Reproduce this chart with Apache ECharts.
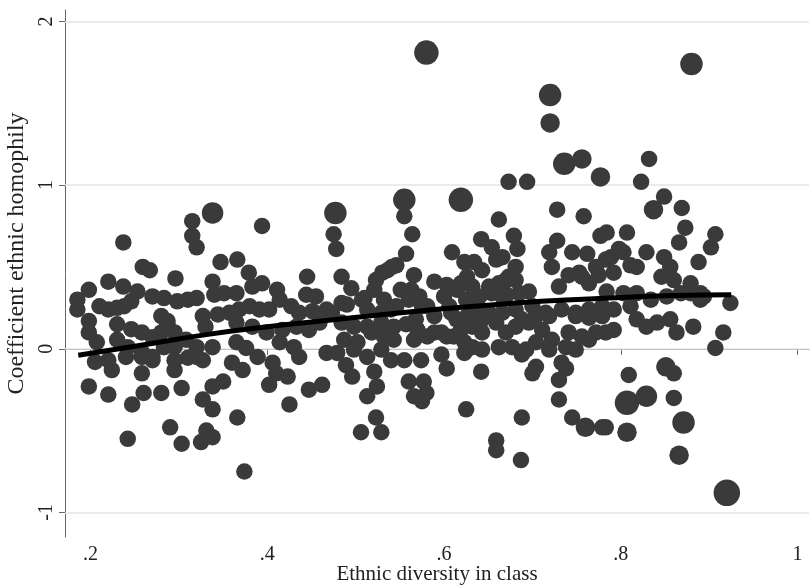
<!DOCTYPE html>
<html>
<head>
<meta charset="utf-8">
<script src="https://cdn.jsdelivr.net/npm/echarts@6/dist/echarts.min.js"></script>
<style>
  html, body { margin: 0; padding: 0; background: #fff; }
  #chart { width: 810px; height: 586px; }
</style>
</head>
<body>
<div id="chart"></div>
<script>
// classes with the usual weight
var classX = [
  0.237, 0.315, 0.315, 0.32, 0.259, 0.267, 0.296, 0.22, 0.237, 0.198,
  0.185, 0.185, 0.21, 0.22, 0.23, 0.238, 0.246, 0.253, 0.27, 0.283,
  0.298, 0.31, 0.32, 0.198, 0.198, 0.207, 0.23, 0.246, 0.258, 0.27,
  0.28, 0.287, 0.295, 0.28, 0.287, 0.23, 0.242, 0.258, 0.27, 0.283,
  0.295, 0.308, 0.32, 0.205, 0.22, 0.24, 0.258, 0.27, 0.295, 0.31,
  0.32, 0.224, 0.258, 0.295, 0.198, 0.22, 0.247, 0.26, 0.28, 0.303,
  0.29, 0.242, 0.303, 0.325,
  // .32 - .48
  0.394, 0.475, 0.478, 0.347, 0.366, 0.379, 0.338, 0.34, 0.351, 0.365,
  0.383, 0.394, 0.411, 0.445, 0.444, 0.455, 0.327, 0.344, 0.357, 0.368,
  0.38, 0.391, 0.402, 0.414, 0.427, 0.436, 0.451, 0.467, 0.473, 0.33,
  0.365, 0.383, 0.399, 0.417, 0.433, 0.447, 0.459, 0.338, 0.365, 0.376,
  0.389, 0.414, 0.43, 0.436, 0.467, 0.327, 0.36, 0.372, 0.406, 0.41,
  0.402, 0.423, 0.338, 0.35, 0.447, 0.462, 0.425, 0.327, 0.338, 0.331,
  0.338, 0.366, 0.374,
  // .48 - .63
  0.555, 0.564, 0.609, 0.623, 0.626, 0.484, 0.495, 0.557, 0.546, 0.536,
  0.523, 0.521, 0.51, 0.49, 0.484, 0.566, 0.589, 0.603, 0.619, 0.551,
  0.563, 0.572, 0.581, 0.60, 0.615, 0.532, 0.54, 0.529, 0.513, 0.589,
  0.608, 0.626, 0.484, 0.498, 0.513, 0.529, 0.543, 0.557, 0.57, 0.589,
  0.603, 0.619, 0.487, 0.502, 0.518, 0.532, 0.543, 0.566, 0.581, 0.597,
  0.611, 0.623, 0.479, 0.498, 0.513, 0.529, 0.54, 0.555, 0.574, 0.597,
  0.623, 0.489, 0.496, 0.521, 0.524, 0.513, 0.56, 0.577, 0.58, 0.566,
  0.575, 0.603, 0.625, 0.523, 0.529, 0.506,
  0.53, 0.541, 0.546, 0.56, 0.575, 0.507, 0.606, 0.625, 0.568, 0.614,
  // .63 - .78
  0.673, 0.694, 0.728, 0.758, 0.662, 0.642, 0.654, 0.666, 0.679, 0.683,
  0.728, 0.719, 0.722, 0.745, 0.762, 0.777, 0.783, 0.634, 0.643, 0.659,
  0.681, 0.673, 0.662, 0.651, 0.632, 0.696, 0.685, 0.671, 0.73, 0.741,
  0.753, 0.764, 0.775, 0.64, 0.654, 0.666, 0.636, 0.651, 0.666, 0.681,
  0.70, 0.715, 0.733, 0.749, 0.764, 0.779, 0.632, 0.643, 0.659, 0.67,
  0.681, 0.696, 0.711, 0.722, 0.741, 0.756, 0.772, 0.632, 0.643, 0.662,
  0.677, 0.693, 0.704, 0.719, 0.738, 0.749, 0.764, 0.783, 0.688, 0.704,
  0.70, 0.733, 0.738, 0.73, 0.642, 0.73, 0.688, 0.745, 0.779, 0.659,
  0.659, 0.687,
  0.67, 0.681, 0.756, 0.772, 0.643, 0.688, 0.704, 0.719, 0.749, 0.764,
  0.779,
  // .78 - .93
  0.832, 0.823, 0.849, 0.869, 0.873, 0.866, 0.907, 0.902, 0.888, 0.784,
  0.807, 0.829, 0.849, 0.856, 0.846, 0.86, 0.879, 0.89, 0.789, 0.803,
  0.811, 0.818, 0.792, 0.784, 0.803, 0.818, 0.834, 0.852, 0.868, 0.879,
  0.89, 0.894, 0.924, 0.792, 0.811, 0.818, 0.829, 0.841, 0.856, 0.863,
  0.882, 0.792, 0.916, 0.907, 0.809, 0.86, 0.86, 0.783, 0.798
];
var classY = [
  0.65, 0.78, 0.69, 0.62, 0.50, 0.48, 0.43, 0.41, 0.38, 0.36,
  0.30, 0.24, 0.26, 0.24, 0.25, 0.26, 0.29, 0.35, 0.32, 0.31,
  0.29, 0.30, 0.31, 0.17, 0.10, 0.04, 0.15, 0.12, 0.10, 0.07,
  0.10, 0.15, 0.10, 0.20, 0.17, 0.055, 0.01, -0.02, -0.05, 0.01,
  0.01, 0.055, 0.01, -0.08, -0.07, -0.05, -0.05, -0.07, -0.07, -0.055,
  -0.05, -0.13, -0.15, -0.13, -0.23, -0.28, -0.34, -0.27, -0.27, -0.24,
  -0.48, -0.55, -0.58, -0.57,
  // .32 - .48
  0.75, 0.70, 0.61, 0.53, 0.545, 0.465, 0.41, 0.33, 0.34, 0.34,
  0.38, 0.40, 0.36, 0.44, 0.33, 0.32, 0.20, 0.21, 0.22, 0.24,
  0.26, 0.24, 0.24, 0.30, 0.26, 0.22, 0.23, 0.24, 0.22, 0.135,
  0.16, 0.135, 0.10, 0.115, 0.135, 0.115, 0.16, 0.01, 0.04, 0.005,
  -0.05, 0.04, 0.01, -0.05, -0.025, -0.07, -0.085, -0.13, -0.085, -0.15,
  -0.22, -0.17, -0.23, -0.20, -0.25, -0.22, -0.34, -0.31, -0.37, -0.50,
  -0.54, -0.42, -0.75,
  // .48 - .63
  0.81, 0.70, 0.59, 0.53, 0.44, 0.44, 0.37, 0.58, 0.51, 0.48,
  0.42, 0.36, 0.31, 0.27, 0.28, 0.45, 0.41, 0.39, 0.40, 0.36,
  0.36, 0.32, 0.26, 0.32, 0.36, 0.30, 0.24, 0.22, 0.24, 0.20,
  0.22, 0.20, 0.16, 0.135, 0.135, 0.16, 0.135, 0.15, 0.115, 0.10,
  0.075, 0.115, 0.055, 0.04, 0.10, 0.075, 0.055, 0.055, 0.075, 0.10,
  0.075, 0.04, -0.025, -0.005, -0.05, -0.005, -0.07, -0.07, -0.07, -0.035,
  -0.025, -0.10, -0.17, -0.14, -0.23, -0.29, -0.20, -0.20, -0.27, -0.29,
  -0.32, -0.12, -0.37, -0.42, -0.51, -0.51,
  0.465, 0.50, 0.26, 0.30, 0.26, 0.30, 0.26, 0.30, 0.18, 0.18,
  // .63 - .78
  1.02, 1.02, 0.85, 0.81, 0.79, 0.67, 0.62, 0.56, 0.69, 0.61,
  0.66, 0.59, 0.50, 0.59, 0.58, 0.69, 0.545, 0.53, 0.48, 0.545,
  0.50, 0.44, 0.40, 0.38, 0.38, 0.35, 0.34, 0.33, 0.38, 0.45,
  0.465, 0.40, 0.45, 0.32, 0.34, 0.32, 0.24, 0.22, 0.22, 0.24,
  0.26, 0.22, 0.24, 0.22, 0.24, 0.26, 0.135, 0.10, 0.16, 0.10,
  0.135, 0.16, 0.115, 0.055, 0.10, 0.075, 0.10, 0.01, -0.005, 0.01,
  0.01, -0.005, 0.04, -0.005, 0.01, -0.005, 0.055, 0.10, -0.035, -0.11,
  -0.15, -0.085, -0.12, -0.19, -0.14, -0.31, -0.42, -0.42, -0.48, -0.56,
  -0.62, -0.68,
  0.42, 0.42, 0.44, 0.50, 0.18, 0.18, 0.20, 0.20, 0.20, 0.19,
  0.20,
  // .78 - .93
  1.16, 1.02, 0.93, 0.86, 0.74, 0.65, 0.70, 0.62, 0.53, 0.71,
  0.71, 0.59, 0.56, 0.50, 0.44, 0.42, 0.40, 0.34, 0.56, 0.59,
  0.51, 0.50, 0.465, 0.35, 0.34, 0.34, 0.30, 0.32, 0.34, 0.34,
  0.30, 0.32, 0.28, 0.24, 0.26, 0.18, 0.135, 0.16, 0.18, 0.10,
  0.135, 0.115, 0.10, 0.005, -0.16, -0.15, -0.30, -0.48, 0.61
];

// classes drawn with a bigger marker (higher weight)
var largeX = [0.338, 0.477, 0.555, 0.619, 0.58, 0.88, 0.72, 0.72, 0.736, 0.756,
              0.777, 0.76, 0.837, 0.851, 0.807, 0.829, 0.871, 0.866, 0.807, 0.92];
var largeY = [0.83, 0.83, 0.91, 0.91, 1.81, 1.74, 1.55, 1.38, 1.13, 1.16,
              1.05, -0.48, 0.85, -0.11, -0.33, -0.29, -0.45, -0.65, -0.51, -0.88];
var largeW = [2, 2.2, 2.2, 2.6, 2.6, 2.2, 2.2, 1.6, 2.2, 1.6,
              1.6, 1.6, 1.6, 1.6, 2.6, 2, 2.2, 1.6, 1.6, 3];

// fitted curve
var fitX = [0.186, 0.25, 0.329, 0.40, 0.48, 0.56, 0.634, 0.71, 0.786, 0.86, 0.925];
var fitY = [-0.04, 0.015, 0.085, 0.135, 0.18, 0.225, 0.26, 0.29, 0.31, 0.325, 0.33];

var yTicks = [-1, 0, 1, 2];
var xTicks = [0.2, 0.4, 0.6, 0.8, 1];

var serif = "'Liberation Serif', 'DejaVu Serif', serif";
var dotColor = '#3a3a3a';

var points = classX.map(function (x, i) { return [x, classY[i], 1]; })
  .concat(largeX.map(function (x, i) { return [x, largeY[i], largeW[i]]; }));
var fitLine = fitX.map(function (x, i) { return [x, fitY[i]]; });

var chart = echarts.init(document.getElementById('chart'), null, { renderer: 'canvas' });

chart.setOption({
  backgroundColor: '#fff',
  animation: false,
  grid: { left: 65, right: 1, top: 10, bottom: 49, outerBoundsMode: 'none' },
  xAxis: {
    type: 'value',
    min: 0.171,
    max: 1.013,
    name: 'Ethnic diversity in class',
    nameLocation: 'middle',
    nameGap: 27,
    nameMoveOverlap: false,
    nameTextStyle: { fontFamily: serif, fontSize: 21, color: '#222' },
    axisLine: { show: true, lineStyle: { color: '#666', width: 1 } },
    axisTick: { show: true, length: 6, customValues: xTicks, lineStyle: { color: '#666' } },
    axisLabel: {
      customValues: xTicks,
      margin: 8,
      fontFamily: serif, fontSize: 20, color: '#222',
      formatter: function (v) { return v === 1 ? '1' : String(v).replace(/^0/, ''); }
    },
    splitLine: { show: false }
  },
  yAxis: {
    type: 'value',
    min: -1.15,
    max: 2.07,
    name: 'Coefficient ethnic homophily',
    nameLocation: 'middle',
    nameRotate: 90,
    nameGap: 34,
    nameTextStyle: { fontFamily: serif, fontSize: 24, color: '#222', padding: [0, 0, 0, 40] },
    axisLine: { show: true, lineStyle: { color: '#666', width: 1 } },
    axisTick: { show: true, length: 6, customValues: yTicks, lineStyle: { color: '#666' } },
    axisLabel: {
      customValues: yTicks,
      rotate: 90,
      margin: 8,
      fontFamily: serif, fontSize: 20, color: '#222'
    },
    splitLine: { show: false }
  },
  series: [
    {
      type: 'scatter',
      data: points,
      symbolSize: function (v) { return 11.5 + 5 * v[2]; },
      itemStyle: { color: dotColor, opacity: 1 },
      silent: true,
      z: 2,
      markLine: {
        silent: true,
        symbol: ['none', 'none'],
        label: { show: false },
        lineStyle: { color: '#e4e4e4', type: 'solid', width: 1.5 },
        data: yTicks.map(function (t) { return { yAxis: t }; }),
        z: 1
      }
    },
    {
      type: 'line',
      data: fitLine,
      smooth: true,
      showSymbol: false,
      lineStyle: { color: '#000', width: 5 },
      silent: true,
      z: 3
    }
  ]
});
</script>
</body>
</html>
